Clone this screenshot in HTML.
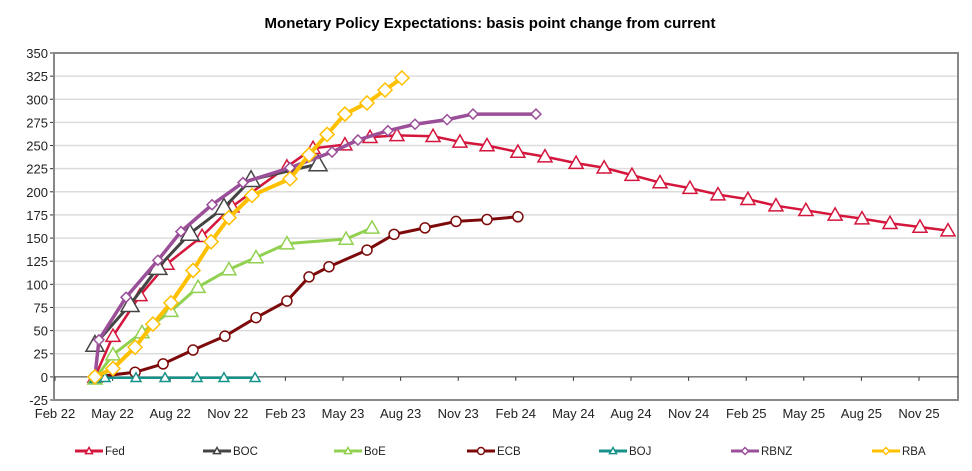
<!DOCTYPE html>
<html><head><meta charset="utf-8"><style>
body{margin:0;background:#fff;font-family:"Liberation Sans",sans-serif}
svg{display:block}
</style></head><body>
<svg id="chart" width="972" height="471">
<text x="490" y="28" text-anchor="middle" font-size="15" font-weight="bold">Monetary Policy Expectations: basis point change from current</text>
<g id="grid"></g><g id="axes"></g><g id="series"></g><g id="legend"></g>
</svg>
<script>
const xTickLabels=["Feb 22","May 22","Aug 22","Nov 22","Feb 23","May 23","Aug 23","Nov 23","Feb 24","May 24","Aug 24","Nov 24","Feb 25","May 25","Aug 25","Nov 25"];
const yTicks=[-25,0,25,50,75,100,125,150,175,200,225,250,275,300,325,350];
const seriesNames=["Fed","BOC","BoE","ECB","BOJ","RBNZ","RBA"];
const fedMonths=[2.08,3.02,4.43,5.83,7.66,9.22,12.08,13.44,15.1,16.41,17.81,19.69,21.09,22.5,24.11,25.52,27.14,28.6,30.05,31.51,33.07,34.53,36.09,37.55,39.11,40.63,42.03,43.49,45.05,46.51];
const fedValues=[0,44,88,122,152,184,227,247,251,259,261,260,254,250,243,238,231,226,218,210,204,197,192,185,180,175,171,166,162,158];
const bocMonths=[2.08,3.91,5.36,7.03,8.8,10.21,13.7];
const bocValues=[35,78,118,155,183,213,230];
const boeMonths=[2.08,3.02,4.53,6.04,7.45,9.06,10.47,12.08,15.16,16.51];
const boeValues=[-2,24,48,71,97,116,129,144,149,161];
const ecbMonths=[2.08,4.17,5.63,7.19,8.85,10.47,12.08,13.23,14.27,16.25,17.66,19.27,20.89,22.5,24.11];
const ecbValues=[0,5,14,29,44,64,82,108,119,137,154,161,168,170,173];
const bojMonths=[2.08,2.6,4.22,5.73,7.4,8.8,10.42];
const bojValues=[-2,-1,-1,-1,-1,-1,-1];
const rbnzMonths=[2.08,2.29,3.7,5.36,6.56,8.18,9.79,12.24,14.43,15.78,17.34,18.75,20.42,21.77,25.05];
const rbnzValues=[0,40,86,126,157,186,210,226,243,256,266,273,278,284,284];
const rbaMonths=[2.08,3.02,4.17,5.1,6.04,7.19,8.13,9.06,10.26,12.24,13.23,14.17,15.1,16.25,17.19,18.07];
const rbaValues=[0,9,32,57,80,115,146,172,196,214,240,262,284,296,310,323];

const NS="http://www.w3.org/2000/svg";
const L=54,R=958,T=53,B=400;
const x=m=>55+m*19.2;
const y=v=>B-(v+25)*(B-T)/375;
function mk(tag,attrs,parent){const e=document.createElementNS(NS,tag);for(const k in attrs)e.setAttribute(k,attrs[k]);parent.appendChild(e);return e;}
const grid=document.getElementById('grid'),axes=document.getElementById('axes'),ser=document.getElementById('series'),leg=document.getElementById('legend');
yTicks.forEach(v=>{
  if(v!==-25&&v!==350&&v!==0){const g=mk('line',{x1:L,x2:R,y1:y(v),y2:y(v),stroke:'#dcdcdc','stroke-width':1.5},grid);
  
  }
  const t=mk('text',{x:48,y:y(v)+5,'text-anchor':'end','font-size':13,fill:'#222'},axes);t.textContent=v;
  
  
  mk('line',{x1:L-4,x2:L,y1:y(v),y2:y(v),stroke:'#333'},axes);
});
const frame=mk('rect',{x:L,y:T,width:R-L,height:B-T,fill:'none',stroke:'#888','stroke-width':2},axes);


const z=mk('line',{x1:L,x2:R,y1:y(0),y2:y(0),stroke:'#333','stroke-width':1},axes);


xTickLabels.forEach((s,i)=>{
  const t=mk('text',{x:x(i*3),y:418,'text-anchor':'middle','font-size':13,fill:'#222'},axes);t.textContent=s;
  
  
  mk('line',{x1:x(i*3),x2:x(i*3),y1:y(0),y2:y(0)+4,stroke:'#333'},axes);
});
const defs=[
 {m:fedMonths,v:fedValues,c:'#d4163c',mk:'tri',s:7,w:2.5},
 {m:bocMonths,v:bocValues,c:'#444',mk:'tri',s:9,w:3},
 {m:boeMonths,v:boeValues,c:'#92d050',mk:'tri',s:7,w:3},
 {m:ecbMonths,v:ecbValues,c:'#7d0a0a',mk:'circ',s:5,w:3},
 {m:bojMonths,v:bojValues,c:'#16928a',mk:'tri',s:5,w:2.5},
 {m:rbnzMonths,v:rbnzValues,c:'#9a4f98',mk:'dia',s:5,w:3.5},
 {m:rbaMonths,v:rbaValues,c:'#ffc000',mk:'dia',s:7,w:4}];
function marker(type,cx,cy,s,c,parent){
  let e;
  if(type==='tri')e=mk('polygon',{points:`${cx},${cy-s} ${cx+s},${cy+s*0.75} ${cx-s},${cy+s*0.75}`,fill:'#fff',stroke:c,'stroke-width':1.5},parent);
  else if(type==='circ')e=mk('circle',{cx,cy,r:s,fill:'#fff',stroke:c,'stroke-width':1.5},parent);
  else e=mk('polygon',{points:`${cx},${cy-s} ${cx+s},${cy} ${cx},${cy+s} ${cx-s},${cy}`,fill:'#fff',stroke:c,'stroke-width':1.5},parent);
  return e;
}
defs.forEach((d,i)=>{
  const g=mk('g',{},ser);
  
  
  const pts=d.m.map((m,j)=>x(m)+','+y(d.v[j])).join(' ');
  const pl=mk('polyline',{points:pts,fill:'none',stroke:d.c,'stroke-width':d.w,'stroke-linejoin':'round'},g);
  
  
  d.m.forEach((m,j)=>{const p=marker(d.mk,x(m),y(d.v[j]),d.s,d.c,g);
    
    });
  // legend
  const lx=[75,203,334,467,599,731,872][i];
  const lg=mk('g',{},leg);
  
  
  mk('line',{x1:lx,x2:lx+28,y1:451,y2:451,stroke:d.c,'stroke-width':3},lg);
  marker(d.mk,lx+14,451,3.5,d.c,lg);
  const t=mk('text',{x:lx+30,y:455,'font-size':11.5,fill:'#222'},lg);t.textContent=seriesNames[i];
});
</script>
</body></html>
